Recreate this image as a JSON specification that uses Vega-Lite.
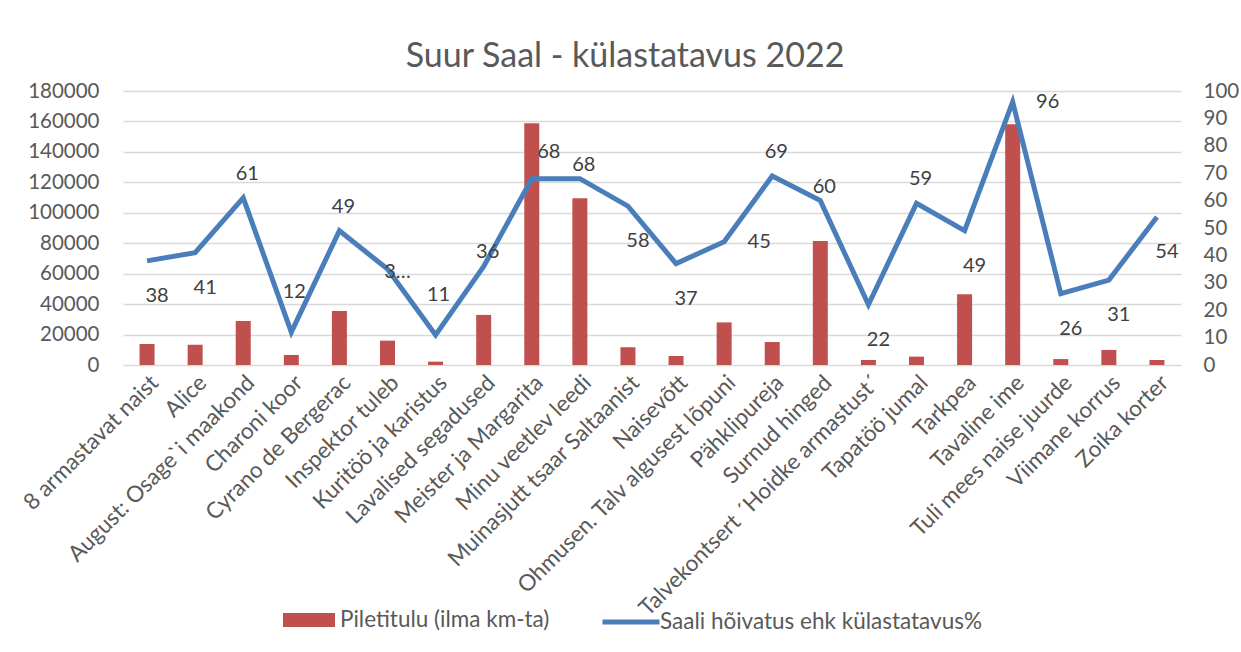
{
  "$schema": "https://vega.github.io/schema/vega-lite/v6.json",
  "width": 1058,
  "height": 274,
  "autosize": {"type": "none"},
  "padding": {"left": 123, "top": 91, "right": 60, "bottom": 287},
  "background": "white",
  "title": {"text": "Suur Saal - külastatavus 2022", "fontSize": 34, "font": "Lato", "fontWeight": "normal", "color": "#595959", "offset": 7, "anchor": "middle", "frame": "group", "dx": -27},
  "config": {"font": "Lato", "view": {"stroke": null}},
  "data": {"values": [
    {"show": "8 armastavat naist", "tulu": 13800, "pct": 38, "label": "38", "pos": "b"},
    {"show": "Alice", "tulu": 13300, "pct": 41, "label": "41", "pos": "b"},
    {"show": "August: Osage`i maakond", "tulu": 28900, "pct": 61, "label": "61", "pos": "a"},
    {"show": "Charoni koor", "tulu": 6600, "pct": 12, "label": "12", "pos": "aa"},
    {"show": "Cyrano de Bergerac", "tulu": 35500, "pct": 49, "label": "49", "pos": "a"},
    {"show": "Inspektor tuleb", "tulu": 16000, "pct": 35, "label": "3…", "pos": "on"},
    {"show": "Kuritöö ja karistus", "tulu": 2200, "pct": 11, "label": "11", "pos": "aa"},
    {"show": "Lavalised segadused", "tulu": 32900, "pct": 36, "label": "36", "pos": "a1"},
    {"show": "Meister ja Margarita", "tulu": 158800, "pct": 68, "label": "68", "pos": "ar"},
    {"show": "Minu veetlev leedi", "tulu": 109500, "pct": 68, "label": "68", "pos": "a1"},
    {"show": "Muinasjutt tsaar Saltaanist", "tulu": 11600, "pct": 58, "label": "58", "pos": "b"},
    {"show": "Naisevõtt", "tulu": 5900, "pct": 37, "label": "37", "pos": "b"},
    {"show": "Ohmusen. Talv algusest lõpuni", "tulu": 28000, "pct": 45, "label": "45", "pos": "r"},
    {"show": "Pähklipureja", "tulu": 15100, "pct": 69, "label": "69", "pos": "a"},
    {"show": "Surnud hinged", "tulu": 81500, "pct": 60, "label": "60", "pos": "a1"},
    {"show": "Talvekontsert ´Hoidke armastust´", "tulu": 3300, "pct": 22, "label": "22", "pos": "b"},
    {"show": "Tapatöö jumal", "tulu": 5500, "pct": 59, "label": "59", "pos": "a"},
    {"show": "Tarkpea", "tulu": 46400, "pct": 49, "label": "49", "pos": "b"},
    {"show": "Tavaline ime", "tulu": 158100, "pct": 96, "label": "96", "pos": "r"},
    {"show": "Tuli mees naise juurde", "tulu": 3900, "pct": 26, "label": "26", "pos": "b"},
    {"show": "Viimane korrus", "tulu": 9900, "pct": 31, "label": "31", "pos": "b"},
    {"show": "Zoika korter", "tulu": 3300, "pct": 54, "label": "54", "pos": "b"}
  ]},
  "encoding": {
    "x": {"field": "show", "type": "nominal", "sort": null,
      "scale": {"paddingInner": 0, "paddingOuter": 0},
      "axis": {"title": null, "labelAngle": -45, "labelFontSize": 22.5, "labelColor": "#595959", "ticks": false, "domain": false, "labelPadding": 6, "labelLimit": 500}}
  },
  "layer": [
    {
      "mark": {"type": "bar", "size": 15},
      "encoding": {
        "y": {"field": "tulu", "type": "quantitative", "scale": {"domain": [0, 180000]},
          "axis": {"title": null, "values": [0, 20000, 40000, 60000, 80000, 100000, 120000, 140000, 160000, 180000], "format": "d", "labelFontSize": 20.5, "labelColor": "#595959", "grid": true, "gridColor": "#d9d9d9", "gridWidth": 1.5, "domain": false, "ticks": false, "labelPadding": 24}},
        "color": {"datum": "Piletitulu (ilma km-ta)", "scale": {"range": ["#c0504d"]},
          "legend": {"title": null, "orient": "none", "legendX": 160, "legendY": 503, "symbolType": "M-1,-0.27H1V0.27H-1Z", "symbolSize": 2704, "symbolStrokeWidth": 0, "labelFontSize": 22.5, "labelColor": "#595959", "labelOffset": 5, "labelLimit": 600}}
      }
    },
    {
      "encoding": {
        "y": {"field": "pct", "type": "quantitative", "scale": {"domain": [0, 100]},
          "axis": {"orient": "right", "title": null, "values": [0, 10, 20, 30, 40, 50, 60, 70, 80, 90, 100], "labelFontSize": 20.5, "labelColor": "#595959", "grid": false, "domain": false, "ticks": false, "labelPadding": 22}}
      },
      "layer": [
        {
          "mark": {"type": "line", "strokeWidth": 5, "strokeJoin": "miter"},
          "encoding": {
            "stroke": {"datum": "Saali hõivatus ehk külastatavus%", "scale": {"range": ["#4a7ebb"]},
              "legend": {"title": null, "orient": "none", "legendX": 477, "legendY": 500, "symbolType": "stroke", "symbolSize": 3249, "symbolStrokeWidth": 5, "labelFontSize": 22.5, "labelColor": "#595959", "labelOffset": -2, "labelLimit": 600}}
          }
        },
        {
          "transform": [{"filter": "datum.pos === 'a'"}],
          "mark": {"type": "text", "dx": 4, "dy": -24, "fontSize": 20, "color": "#404040", "baseline": "middle"},
          "encoding": {"text": {"field": "label"}}
        },
        {
          "transform": [{"filter": "datum.pos === 'a1'"}],
          "mark": {"type": "text", "dx": 4, "dy": -14, "fontSize": 20, "color": "#404040", "baseline": "middle"},
          "encoding": {"text": {"field": "label"}}
        },
        {
          "transform": [{"filter": "datum.pos === 'ar'"}],
          "mark": {"type": "text", "dx": 17, "dy": -27, "fontSize": 20, "color": "#404040", "baseline": "middle"},
          "encoding": {"text": {"field": "label"}}
        },
        {
          "transform": [{"filter": "datum.pos === 'aa'"}],
          "mark": {"type": "text", "dx": 3, "dy": -40, "fontSize": 20, "color": "#404040", "baseline": "middle"},
          "encoding": {"text": {"field": "label"}}
        },
        {
          "transform": [{"filter": "datum.pos === 'b'"}],
          "mark": {"type": "text", "dx": 10, "dy": 35, "fontSize": 20, "color": "#404040", "baseline": "middle"},
          "encoding": {"text": {"field": "label"}}
        },
        {
          "transform": [{"filter": "datum.pos === 'r'"}],
          "mark": {"type": "text", "dx": 35, "fontSize": 20, "color": "#404040", "baseline": "middle"},
          "encoding": {"text": {"field": "label"}}
        },
        {
          "transform": [{"filter": "datum.pos === 'on'"}],
          "mark": {"type": "text", "dx": 10, "dy": 3, "fontSize": 20, "color": "#404040", "baseline": "middle"},
          "encoding": {"text": {"field": "label"}}
        }
      ]
    }
  ],
  "resolve": {"scale": {"y": "independent"}}
}
